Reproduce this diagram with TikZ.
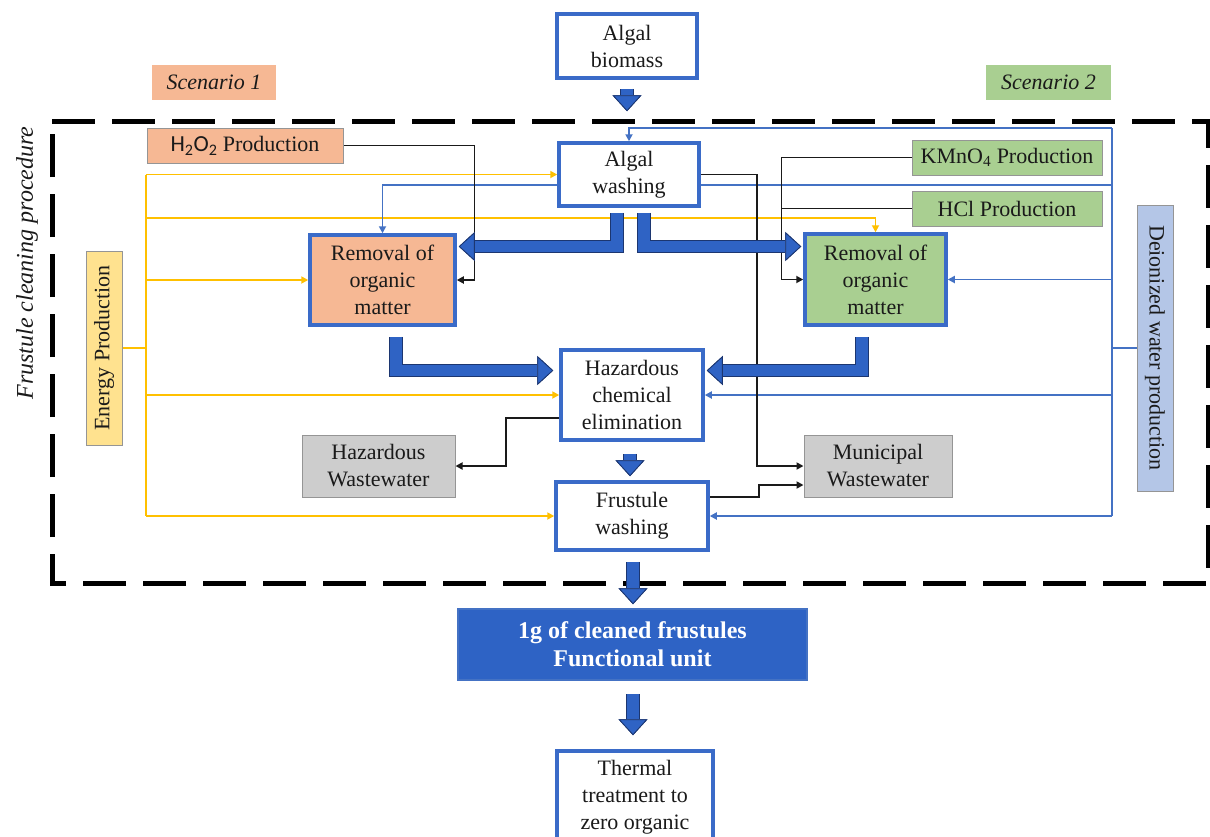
\documentclass[tikz,border=0pt]{standalone}
\usepackage{fontspec}
\setmainfont{Liberation Serif}
\newfontfamily\calfont{Carlito}
\usetikzlibrary{arrows.meta,calc}
\definecolor{bbord}{HTML}{3A6BC8}
\definecolor{afill}{HTML}{2F63C4}
\definecolor{adark}{HTML}{1C3670}
\definecolor{salm}{HTML}{F6B894}
\definecolor{grn}{HTML}{A9CF91}
\definecolor{gry}{HTML}{CDCDCD}
\definecolor{gbord}{HTML}{959595}
\definecolor{ylw}{HTML}{FFE28F}
\definecolor{dib}{HTML}{B4C6E7}
\definecolor{yline}{HTML}{FFC000}
\definecolor{bline}{HTML}{4472C4}
\definecolor{kline}{HTML}{1A1A1A}
\definecolor{fufill}{HTML}{2E63C5}
\pgfdeclarelayer{bg}
\pgfsetlayers{bg,main}
\tikzset{
  txt/.style={font=\fontsize{22}{27}\selectfont, text=kline},
  box/.style={txt, draw=bbord, line width=3.5pt, fill=white, align=center, inner sep=0pt},
  sbox/.style={txt, draw=gbord, line width=1pt, align=center, inner sep=0pt},
  tip/.style={-{Triangle[width=7pt,length=7pt]}},
  yl/.style={draw=yline, line width=1.8pt},
  bl/.style={draw=bline, line width=1.8pt},
  kl/.style={draw=kline, line width=1.8pt},
  bigarr/.style={draw=afill, line width=11.5pt, line join=miter,
    -{Triangle[width=29pt,length=16pt,fill=afill,color=adark,line width=0.8pt]},
    preaction={draw=adark, line width=13.5pt, line join=miter,
    -{Triangle[width=29pt,length=16pt,fill=afill,color=adark,line width=0.8pt]}}}
}
\begin{document}
\begin{tikzpicture}[x=1pt,y=-1pt]
\useasboundingbox (0,0) rectangle (1210,836);
\clip (0,0) rectangle (1210,836);

% main boxes
\node[box, minimum width=140pt, minimum height=64pt] (biomass) at (627,46) {Algal\\biomass};
\node[box, minimum width=140pt, minimum height=63pt] (washing) at (629,174.5) {Algal\\washing};
\node[box, fill=salm, minimum width=145pt, minimum height=90pt] (remL) at (382.5,280) {Removal of\\organic\\matter};
\node[box, fill=grn, minimum width=141pt, minimum height=91pt] (remR) at (875.5,279.5) {Removal of\\organic\\matter};
\node[box, minimum width=142pt, minimum height=90pt] (haz) at (632,395) {Hazardous\\chemical\\elimination};
\node[box, minimum width=152pt, minimum height=68pt] (frus) at (632,516) {Frustule\\washing};
\node[draw=bline, line width=1.5pt, fill=fufill, text=white, align=center, inner sep=0pt,
      font=\bfseries\fontsize{24}{28}\selectfont, minimum width=349pt, minimum height=71pt] (FU) at (632.5,644.5) {1g of cleaned frustules\\Functional unit};
\node[box, minimum width=156pt, minimum height=92pt] (thermal) at (635,797) {Thermal\\treatment to\\zero organic};

% side boxes
\node[sbox, fill=gry, minimum width=153pt, minimum height=62pt] (hazWW) at (378.5,466) {Hazardous\\Wastewater};
\node[sbox, fill=gry, minimum width=148pt, minimum height=62pt] (munWW) at (878,466) {Municipal\\Wastewater};
\node[sbox, fill=salm, minimum width=196pt, minimum height=35pt] (h2o2) at (245,145.5) {{\calfont\fontsize{23}{27}\selectfont H\textsubscript{2}O\textsubscript{2}} Production};
\node[sbox, fill=grn, minimum width=190pt, minimum height=35pt] (kmno4) at (1007,157.5) {KMnO\textsubscript{4} Production};
\node[sbox, fill=grn, minimum width=190pt, minimum height=35pt] (hcl) at (1007,208.5) {HCl Production};
\node[sbox, fill=ylw, rotate=90, minimum width=194pt, minimum height=36pt] (energy) at (104,348) {Energy Production};
\node[sbox, fill=dib, rotate=-90, minimum width=286pt, minimum height=36pt] (di) at (1155,348) {Deionized water production};
\node[sbox, fill=salm, draw=none, font=\itshape\fontsize{22}{27}\selectfont, minimum width=124pt, minimum height=35pt] (sc1) at (214,82.5) {Scenario 1};
\node[sbox, fill=grn, draw=none, font=\itshape\fontsize{22}{27}\selectfont, minimum width=125pt, minimum height=35pt] (sc2) at (1048.5,82.5) {Scenario 2};
\node[txt, font=\itshape\fontsize{24}{28}\selectfont, rotate=90] (fcp) at (27,263) {Frustule cleaning procedure};

\coordinate (ybus) at (146,0);
\coordinate (bbus) at (1112,0);

\begin{pgfonlayer}{bg}
\fill[white] (0,0) rectangle (1210,836);
% energy (yellow) lines
\draw[yl] (energy.south) -- (ybus |- energy.south);
\draw[yl] (ybus |- washing.west) -- (ybus |- frus.west);
\draw[yl,tip] (ybus |- washing.west) -- (washing.west);
\draw[yl,tip] (146,218) -| (remR.north);
\draw[yl,tip] (ybus |- remL.west) -- (remL.west);
\draw[yl,tip] (ybus |- haz.west) -- (haz.west);
\draw[yl,tip] (ybus |- frus.west) -- (frus.west);
% deionized water (blue) lines
\draw[bl] (di.south) -- (bbus |- di.south);
\draw[bl] (1112,128) -- (bbus |- frus.east);
\draw[bl,tip] (1112,128) -| (washing.north);
\draw[bl,tip] (1112,185) -| (remL.north);
\draw[bl,tip] (bbus |- remR.east) -- (remR.east);
\draw[bl,tip] (bbus |- haz.east) -- (haz.east);
\draw[bl,tip] (bbus |- frus.east) -- (frus.east);
% black lines
\draw[kl,tip] (h2o2.east) -- ++(131,0) |- (remL.east);
\draw[kl,tip] (kmno4.west) -- ++(-130,0) |- (remR.west);
\draw[kl] (hcl.west) -- ++(-130,0);
\draw[kl,tip] (washing.east) -- ++(56,0) |- (munWW.west);
\draw[kl,tip] ($(frus.east)+(0,-19)$) -- ++(49,0) |- ($(munWW.west)+(0,19)$);
\draw[kl,tip] ($(haz.west)+(0,23)$) -- ++(-53,0) |- (hazWW.east);
\end{pgfonlayer}

% frame
\draw[line width=5pt, dash pattern=on 43pt off 17pt] (52,121) -- (1208,121) -- (1208,583) -- (52,583) -- cycle;

% block arrows
\draw[bigarr] ($(biomass.south)+(0,9)$) -- ($(biomass.south |- washing.north)+(0,-30)$);
\draw[bigarr] ($(washing.south)+(-12,5)$) |- ($(remL.east)+(2,-33.5)$);
\draw[bigarr] ($(washing.south)+(15,5)$) |- ($(remR.west)+(-2,-33)$);
\draw[bigarr] ($(remL.south)+(13.5,10)$) |- ($(haz.west)+(-6,-24.5)$);
\draw[bigarr] ($(remR.south)+(-13.5,10)$) |- ($(haz.east)+(2,-24.5)$);
\draw[bigarr] ($(haz.south)+(-2,12)$) -- ($(frus.north)+(-2,-4)$);
\draw[bigarr] ($(frus.south)+(1,10)$) -- ($(frus.south |- FU.north)+(1,-4)$);
\draw[bigarr] ($(FU.south)+(0.5,13)$) -- ($(FU.south |- thermal.north)+(0.5,-14)$);
\end{tikzpicture}
\end{document}
